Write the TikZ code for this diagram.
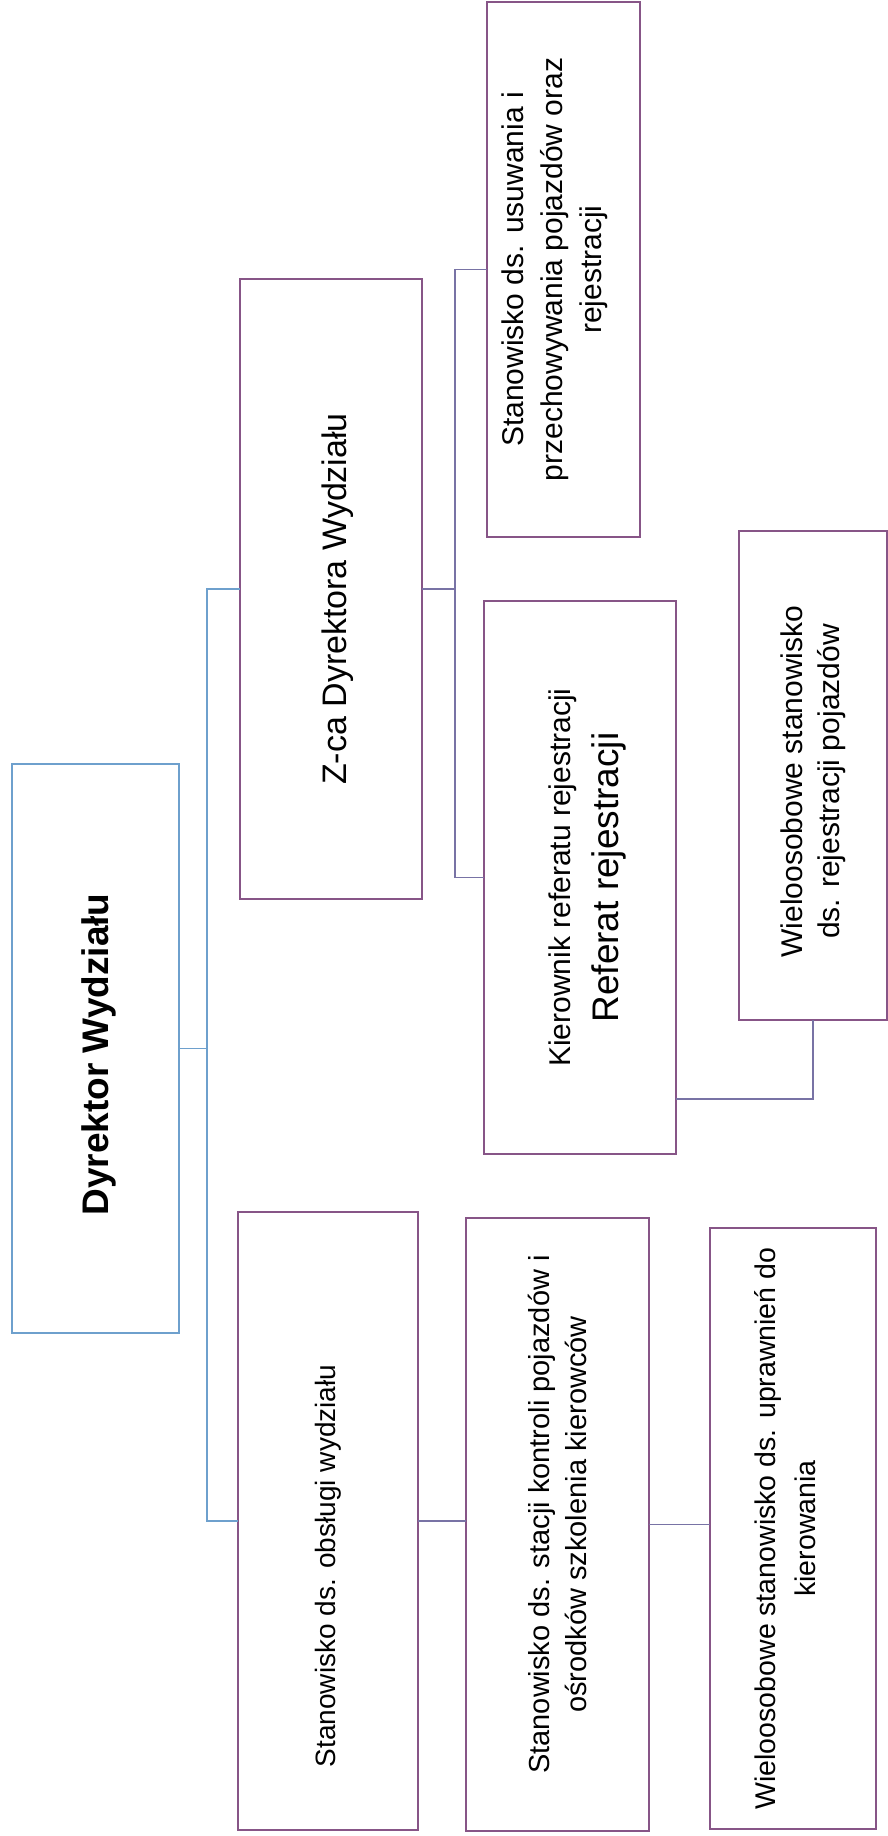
\documentclass[tikz,border=0pt]{standalone}
\usepackage{fontspec}
\setmainfont{Liberation Sans}
\usetikzlibrary{calc}
\definecolor{LineBlue}{RGB}{110,160,205}
\definecolor{BoxPurple}{RGB}{135,85,135}
\definecolor{LinkGrey}{RGB}{120,115,165}

\tikzset{
  unit/.style={draw=BoxPurple, line width=1.6pt, inner sep=0pt, outer sep=0pt},
  head/.style={unit, draw=LineBlue},
  txt/.style={rotate=90, align=center, inner sep=0pt, font=\fontsize{29}{37}\selectfont},
  link/.style={draw=LinkGrey, line width=1.6pt},
  toplink/.style={draw=LineBlue, line width=1.6pt},
}

\begin{document}
\begin{tikzpicture}[x=1pt,y=-1pt]
\useasboundingbox (0,0) rectangle (888,1836);

% boxes
\node[head, minimum width=167pt, minimum height=569pt] (dyr) at (95.5,1048.5) {};
\node[unit, minimum width=182pt, minimum height=620pt] (zca) at (331,589) {};
\node[unit, minimum width=180pt, minimum height=618pt] (obs) at (328,1521) {};
\node[unit, minimum width=153pt, minimum height=535pt] (usu) at (563.5,269.5) {};
\node[unit, minimum width=192pt, minimum height=553pt] (kier) at (580,877.5) {};
\node[unit, minimum width=183pt, minimum height=613pt] (stac) at (557.5,1524.5) {};
\node[unit, minimum width=148pt, minimum height=489pt] (wrej) at (813,775.5) {};
\node[unit, minimum width=166pt, minimum height=601pt] (upr) at (793,1528.5) {};

% texts
\node[txt, font=\fontsize{37}{42}\selectfont\bfseries] (dyr-t) at ([xshift=3pt,yshift=-6pt]dyr.center) {Dyrektor Wydziału};
\node[txt, font=\fontsize{34}{40}\selectfont] (zca-t) at ([xshift=7pt,yshift=-10pt]zca.center) {Z-ca Dyrektora Wydziału};
\node[txt, font=\fontsize{28}{33}\selectfont] (obs-t) at ([yshift=-45pt]obs.center) {Stanowisko ds. obsługi wydziału};
\node[txt, font=\fontsize{30}{39}\selectfont] (usu-t) at ([xshift=-9pt]usu.center) {Stanowisko ds. usuwania i\\przechowywania pojazdów oraz\\rejestracji};
\node[txt, font=\fontsize{30}{34}\selectfont] (kier-t) at ([xshift=7pt]kier.center) {Kierownik referatu rejestracji\\[14pt]{\fontsize{37}{42}\selectfont Referat rejestracji}};
\node[txt] (stac-t) at ([yshift=10pt]stac.center) {Stanowisko ds. stacji kontroli pojazdów i\\ośrodków szkolenia kierowców};
\node[txt, font=\fontsize{30}{37}\selectfont] (wrej-t) at ([yshift=-6pt]wrej.center) {Wieloosobowe stanowisko\\ds. rejestracji pojazdów};
\node[txt, font=\fontsize{28.5}{40}\selectfont] (upr-t) at ([xshift=-8pt]upr.center) {Wieloosobowe stanowisko ds. uprawnień do\\kierowania};

% connectors
\coordinate (bus1) at (207,0);
\coordinate (bus2) at (455,0);
\coordinate (kierout) at (0,1099);

\draw[toplink] (dyr.east) -- (dyr.east -| bus1);
\draw[toplink] (zca.west) -- (zca.west -| bus1) -- (obs.west -| bus1) -- (obs.west);
\draw[link] (zca.east) -- (zca.east -| bus2);
\draw[link] (usu.west) -- (usu.west -| bus2) -- (kier.west -| bus2) -- (kier.west);
\draw[link] (obs.east) -- (obs.east -| stac.west);
\draw[link] (stac.east) -- (stac.east -| upr.west);
\draw[link] (kier.east |- kierout) -| (wrej.south);

\end{tikzpicture}
\end{document}
